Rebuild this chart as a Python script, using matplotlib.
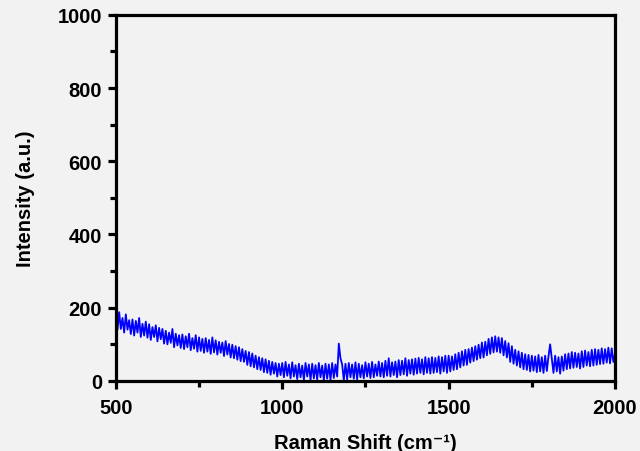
import numpy as np
import matplotlib
matplotlib.use("Agg")
import matplotlib.pyplot as plt
from matplotlib.ticker import MultipleLocator

x_start, x_step = 500, 5
intensity = [
    178, 140, 188, 142, 172, 132, 182, 140, 166, 128,
    168, 124, 164, 132, 172, 120, 156, 124, 162, 118,
    155, 112, 147, 120, 152, 108, 145, 114, 142, 102,
    137, 100, 132, 104, 142, 92, 129, 97, 125, 90,
    127, 87, 122, 92, 129, 84, 117, 88, 125, 80,
    119, 82, 115, 77, 117, 80, 112, 74, 119, 78,
    111, 72, 107, 77, 105, 68, 109, 72, 101, 64,
    99, 62, 95, 58, 92, 54, 87, 52, 82, 44,
    79, 40, 75, 37, 69, 32, 65, 30, 62, 24,
    59, 22, 55, 17, 52, 20, 49, 12, 47, 16,
    49, 10, 52, 14, 45, 7, 51, 12, 43, 5,
    47, 10, 42, 3, 49, 12, 45, 2, 47, 7,
    43, 4, 49, 10, 42, 2, 47, 6, 45, 3,
    49, 8, 45, 12, 102, 62, 45, 2, 47, 4,
    49, 10, 45, 6, 51, 4, 47, 10, 43, 7,
    51, 12, 47, 8, 52, 10, 45, 14, 53, 12,
    49, 10, 55, 14, 62, 12, 51, 16, 53, 10,
    57, 16, 55, 18, 62, 14, 57, 20, 59, 17,
    61, 20, 63, 22, 59, 18, 65, 22, 62, 20,
    65, 22, 63, 24, 67, 20, 65, 26, 69, 22,
    69, 26, 67, 30, 73, 32, 77, 37, 81, 42,
    85, 44, 87, 50, 91, 54, 95, 58, 99, 62,
    105, 64, 107, 70, 115, 74, 119, 78, 122, 80,
    119, 77, 117, 70, 109, 64, 103, 52, 95, 47,
    85, 42, 81, 37, 77, 32, 73, 30, 71, 26,
    69, 28, 67, 24, 71, 26, 65, 22, 69, 27,
    67, 100, 62, 22, 69, 26, 65, 20, 67, 28,
    73, 32, 75, 34, 79, 36, 77, 38, 75, 34,
    81, 38, 83, 42, 79, 40, 85, 42, 87, 44,
    85, 46, 89, 47, 87, 50, 91, 48, 89, 52,
    75,
]
raman_shift = [x_start + i * x_step for i in range(len(intensity))]

x_ticks = [500, 1000, 1500, 2000]
y_ticks = [0, 200, 400, 600, 800, 1000]

plt.rcParams['font.family'] = ['Liberation Sans', 'DejaVu Sans']
fig = plt.figure(figsize=(6.4, 4.52), dpi=100, facecolor='#f2f2f2')
ax = fig.add_axes([0.181, 0.155, 0.780, 0.810])
ax.set_facecolor('#f2f2f2')
ax.plot(raman_shift, intensity, color='#0000ff', lw=1.3)
ax.set_xlim(500, 2000)
ax.set_ylim(0, 1000)
ax.set_xticks(x_ticks)
ax.set_yticks(y_ticks)
ax.xaxis.set_minor_locator(MultipleLocator(250))
ax.yaxis.set_minor_locator(MultipleLocator(100))
for s in ax.spines.values():
    s.set_linewidth(2.3)
ax.tick_params(which='major', direction='out', length=6, width=2.3, labelsize=14.5)
ax.tick_params(axis='x', which='major', pad=6)
ax.tick_params(axis='y', which='major', pad=4)
ax.tick_params(which='minor', direction='out', length=4, width=2.3)
for lab in ax.get_xticklabels() + ax.get_yticklabels():
    lab.set_fontweight('bold')
ax.set_xlabel('Raman Shift (cm\u207b\u00b9)', fontsize=14.5, fontweight='bold', labelpad=12)
ax.set_ylabel('Intensity (a.u.)', fontsize=14.5, fontweight='bold', labelpad=16)
fig.savefig('out.png', dpi=100, facecolor=fig.get_facecolor())
